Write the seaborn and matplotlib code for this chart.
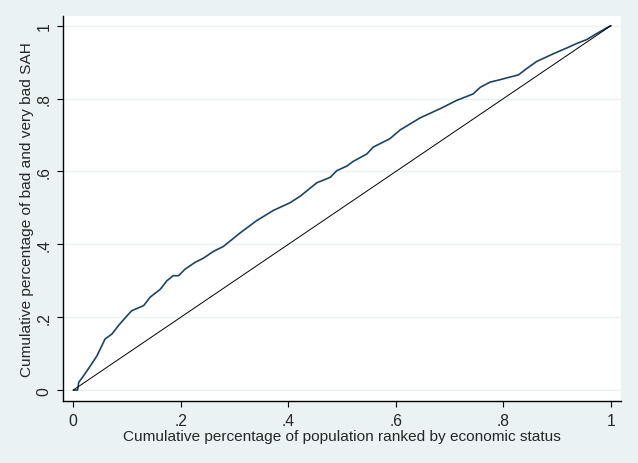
import numpy as np
import pandas as pd
import seaborn as sns
import matplotlib.pyplot as plt

# concentration curve
pop_share = [0.0, 0.008, 0.010, 0.019, 0.032, 0.044, 0.059, 0.072, 0.084,
             0.100, 0.109, 0.131, 0.143, 0.162, 0.174, 0.186, 0.196, 0.208,
             0.227, 0.242, 0.261, 0.279, 0.295, 0.310, 0.341, 0.372, 0.403,
             0.422, 0.453, 0.478, 0.490, 0.509, 0.521, 0.546, 0.558, 0.589,
             0.608, 0.645, 0.682, 0.713, 0.744, 0.757, 0.775, 0.794, 0.812,
             0.828, 0.843, 0.862, 0.893, 0.918, 0.936, 0.955, 0.973, 0.998,
             1.0]
sah_share = [0.0, 0.0, 0.021, 0.039, 0.067, 0.094, 0.140, 0.154, 0.177,
             0.204, 0.218, 0.232, 0.255, 0.277, 0.300, 0.314, 0.314, 0.332,
             0.351, 0.362, 0.381, 0.394, 0.413, 0.431, 0.465, 0.493, 0.514,
             0.532, 0.569, 0.584, 0.602, 0.615, 0.628, 0.648, 0.667, 0.690,
             0.714, 0.747, 0.772, 0.795, 0.813, 0.831, 0.845, 0.852, 0.859,
             0.865, 0.882, 0.902, 0.923, 0.939, 0.951, 0.962, 0.978, 0.999,
             1.0]
diag = [0, 1]
ticks = [0, 0.2, 0.4, 0.6, 0.8, 1]
tick_labels = ['0', '.2', '.4', '.6', '.8', '1']

sns.set_style('white')
plt.rcParams['font.family'] = ['Liberation Sans', 'DejaVu Sans']

curve = pd.DataFrame({'pop': pop_share, 'sah': sah_share})

fig = plt.figure(figsize=(6.38, 4.64), dpi=100, facecolor='#EAF2F3')
ax = fig.add_axes([0.0992, 0.1336, 0.874, 0.830])
ax.set_facecolor('white')

for t in ticks:
    ax.axhline(t, color='#EAF2F3', lw=1.0, zorder=0)

sns.lineplot(data=curve, x='pop', y='sah', sort=False, estimator=None,
             color='#1F4360', lw=1.2, ax=ax)
ax.plot(diag, diag, color='black', lw=0.7)

ax.set_xlim(-0.0186, 1.0186)
ax.set_ylim(-0.030, 1.027)
ax.set_xticks(ticks)
ax.set_xticklabels(tick_labels)
ax.set_yticks(ticks)
ax.set_yticklabels(tick_labels, rotation=90, va='center')

for side in ['top', 'right']:
    ax.spines[side].set_visible(False)
for side in ['left', 'bottom']:
    ax.spines[side].set_color('black')
    ax.spines[side].set_linewidth(1.0)

ax.tick_params(axis='both', which='major', direction='out', length=4,
               width=0.8, color='black', labelsize=11.3, pad=4.5,
               left=True, bottom=True)

ax.set_xlabel('Cumulative percentage of population ranked by economic status',
              fontsize=11.1, labelpad=1)
ax.set_ylabel('Cumulative percentage of bad and very bad SAH',
              fontsize=11.1, labelpad=2)

fig.savefig('out.png', dpi=100, facecolor=fig.get_facecolor())
